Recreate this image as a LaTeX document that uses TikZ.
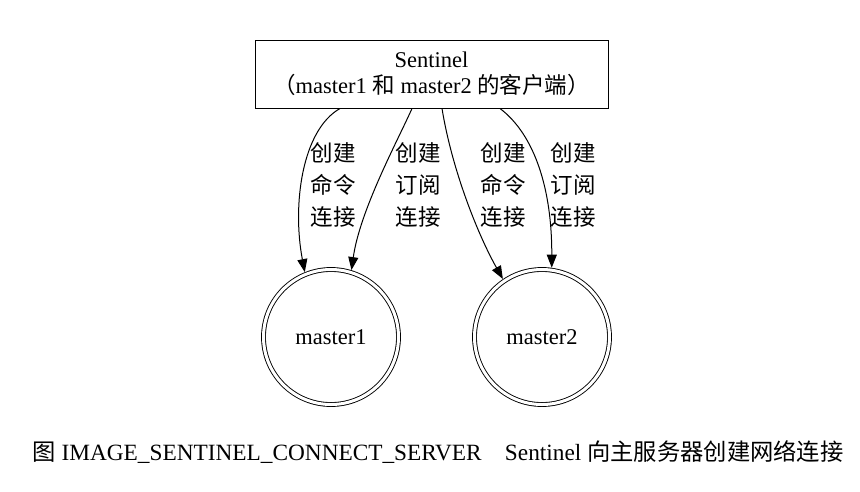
\documentclass[tikz,border=0pt]{standalone}
\usepackage{fontspec}
\setmainfont{Liberation Serif}
\newfontfamily\cjk{Noto Sans CJK SC}
\usetikzlibrary{arrows.meta}
\begin{document}
\begin{tikzpicture}[x=1pt,y=-1pt,
  every node/.style={font=\fontsize{22.5}{26}\selectfont},
  boxnode/.style={draw,line width=1pt,minimum width=353pt,minimum height=68pt,inner sep=0pt,align=center},
  masternode/.style={circle,draw,line width=0.9pt,double,double distance=3pt,minimum size=135pt,inner sep=0pt,outer sep=2.5pt},
  lbl/.style={align=center,font=\fontsize{22.5}{32}\selectfont\cjk},
  edge/.style={line width=1pt,-{Triangle[length=13pt,width=10pt]}}]
\useasboundingbox (0,0) rectangle (860,491);
\node[boxnode] (box) at (431.5,74) {Sentinel\\{\cjk （}master1 {\cjk 和} master2 {\cjk 的客户端）}};
\node[masternode] (m1) at (331,337) {master1};
\node[masternode] (m2) at (542,337) {master2};
\draw[edge] ([xshift=-91.5pt]box.south) .. controls (302,130) and (292,205) .. (m1.112);
\draw[edge] ([xshift=-19.5pt]box.south) .. controls (398,140) and (360,210) .. (m1.73);
\draw[edge] ([xshift=10.5pt]box.south) .. controls (452,170) and (478,235) .. (m2.124);
\draw[edge] ([xshift=68.5pt]box.south) .. controls (535,135) and (552,190) .. (m2.82);
\node[lbl] (l1) at (333,185) {创建\\命令\\连接};
\node[lbl] (l2) at (418,185) {创建\\订阅\\连接};
\node[lbl] (l3) at (503,185) {创建\\命令\\连接};
\node[lbl] (l4) at (573,185) {创建\\订阅\\连接};
\node[font=\fontsize{23.3}{28}\selectfont] (cap) at (438,452) {{\cjk 图} IMAGE\_SENTINEL\_CONNECT\_SERVER\quad Sentinel {\cjk 向主服务器创建网络连接}};
\end{tikzpicture}
\end{document}
